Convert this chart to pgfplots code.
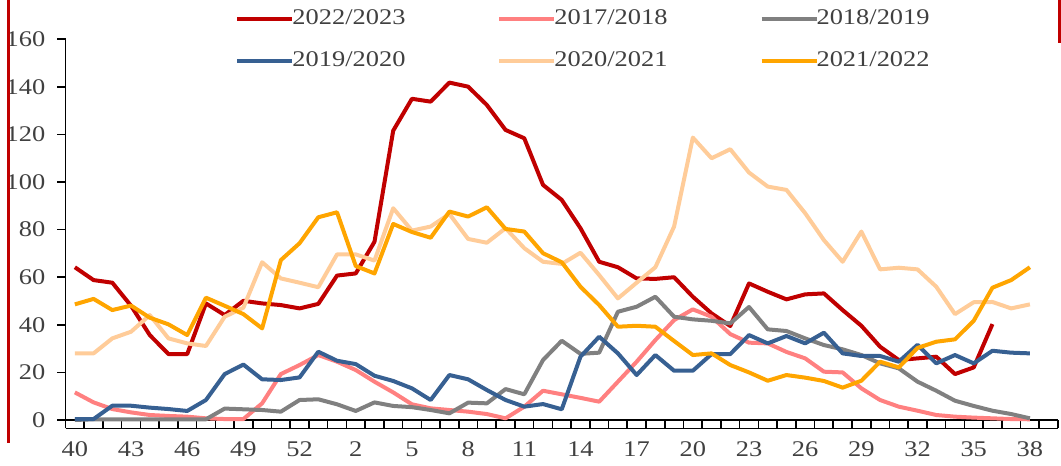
\documentclass[border=0pt]{standalone}
\usepackage{fontspec}
\setmainfont[FakeStretch=1.18]{Liberation Serif}
\usepackage{pgfplots}
\usepackage{pgfplotstable}
\pgfplotsset{compat=1.18}

\definecolor{sRed}{RGB}{192,0,0}
\definecolor{sPink}{RGB}{255,128,128}
\definecolor{sGray}{RGB}{128,128,128}
\definecolor{sBlue}{RGB}{55,96,146}
\definecolor{sPeach}{RGB}{255,204,153}
\definecolor{sOrange}{RGB}{255,165,0}
\definecolor{txt}{RGB}{64,64,64}

% week index: 0 = week 40, 13 = week 53, 14 = week 1 ... 51 = week 38
\pgfplotstableread{
i  r      p     g     b     c      o
0  64.2   11.6  0     0.4   28     48.6
1  58.8   7.4   0.3   0.4   28     50.9
2  57.7   4.6   0.3   6     34.3   46.2
3  48     3.2   0.3   6     37.1   48.1
4  35.7   2.1   0.3   5.2   44.1   43
5  27.7   1.7   0.3   4.6   34.3   40.2
6  27.7   1.4   0.3   3.8   32.2   35.7
7  49     0.7   0.3   8.4   31.1   51.4
8  44.1   0.4   4.8   19.3  43.4   48
9  50.1   0.4   4.5   23.3  47.2   44.5
10 49     7     4.2   17.1  66.3   38.5
11 48.3   19.3  3.5   16.8  59.5   67.2
12 46.9   23.1  8.4   17.9  57.7   74.3
13 48.8   27.3  8.7   28.7  55.8   85.2
14 60.7   24.5  6.6   24.9  69.6   87.3
15 61.6   21    3.8   23.5  69.6   64.7
16 74.9   16.1  7.4   18.6  67     61.6
17 121.6  11.6  5.9   16.4  89     82.4
18 135    6.6   5.4   13.3  79.6   79
19 133.8  4.9   4.2   8.4   81.3   76.6
20 141.8  4.2   2.8   18.9  86.6   87.6
21 140.1  3.5   7.3   17.1  76.1   85.5
22 132.4  2.5   7     12.6  74.5   89.4
23 121.9  0.7   13    8.4   80.6   80.3
24 118.4  5.6   10.8  5.6   72.2   79.2
25 98.8   12.3  25.2  6.7   66.5   70.1
26 92.5   10.8  33.3  4.5   65.6   66.3
27 80.6   9.3   27.8  26.6  70.3   56
28 66.5   7.7   28.3  35    60.9   48.3
29 64.2   16.1  45.5  28    51.1   39.2
30 59.5   24.5  47.6  18.9  57.7   39.6
31 59.3   33.6  51.8  27.3  64.2   39.2
32 60     42    43.4  20.7  81.3   33.2
33 51.8   46.5  42.3  20.7  118.7  27.3
34 44.8   43.4  41.7  27.7  110    28
35 39.5   36.1  40.6  27.7  113.8  23.1
36 57.4   32.5  47.5  35.7  104    20
37 53.9   32.2  38.1  32.2  98.1   16.5
38 50.7   28.6  37.4  35.3  96.7   18.9
39 52.8   25.9  34.3  32.2  86.9   17.8
40 53.2   20.3  31.5  36.7  75.6   16.4
41 46.2   20    29.7  28    66.5   13.6
42 39.6   13.3  27.3  26.9  79.2   16.5
43 30.8   8.4   23.8  26.9  63.3   24.5
44 25.2   5.6   21.7  24.5  64     22.1
45 25.9   3.9   16.1  31.6  63.3   30.3
46 26.6   2.1   12.3  23.8  56     32.9
47 19.3   1.4   8.1   27.3  44.5   33.9
48 22.1   1     5.9   23.8  49.5   41.7
49 40.3   0.7   3.9   29.1  49.6   55.6
50 nan    0.4   2.5   28.3  46.9   58.8
51 nan    0.3   0.7   28    48.6   64.2
}\flu

\begin{document}
\fontsize{11.2}{13}\selectfont
\begin{tikzpicture}
\useasboundingbox (-32.75pt,-23pt) rectangle (497.75pt,210pt);
\begin{axis}[
    at={(0pt,0pt)}, anchor=south west,
    scale only axis, width=496.25pt, height=190.35pt,
    xmin=-0.5, xmax=52.5, ymin=0, ymax=160,
    clip=false,
    axis lines*=left,
    axis line style={line width=0.8pt, black},
    tick style={line width=0.8pt, black},
    tick align=outside, major tick length=4.2pt,
    ytick={0,20,...,160},
    xtick={-0.5,0.5,...,52.5}, xticklabels={},
    extra x ticks={0,3,...,51},
    extra x tick labels={40,43,46,49,52,2,5,8,11,14,17,20,23,26,29,32,35,38},
    extra x tick style={major tick length=0pt},
    ticklabel style={text=txt, font=\fontsize{11.2}{13}\selectfont},
    yticklabel style={xshift=-2pt},
    xticklabel style={yshift=-7pt},
    /pgf/number format/assume math mode=true,
    legend columns=3,
    legend cell align=left,
    legend image code/.code={\draw[#1] (0pt,0pt) -- (27.5pt,0pt);},
    legend style={draw=none, fill=none, inner sep=0pt,
        at={(0.1708,0.9981)}, anchor=west,
        text=txt, font=\fontsize{11.2}{13}\selectfont,
        row sep=11.5pt, column sep=-1pt,
        nodes={inner sep=0pt, text height=7.5pt, text depth=2pt},
        /tikz/every even column/.append style={column sep=46pt}},
    every axis plot/.append style={line width=2pt, line join=round, no markers},
]
\addplot[sRed]    table[x=i, y=r] {\flu};
\addplot[sPink]   table[x=i, y=p] {\flu};
\addplot[sGray]   table[x=i, y=g] {\flu};
\addplot[sBlue]   table[x=i, y=b] {\flu};
\addplot[sPeach]  table[x=i, y=c] {\flu};
\addplot[sOrange] table[x=i, y=o] {\flu};
\legend{2022/2023,2017/2018,2018/2019,2019/2020,2020/2021,2021/2022}
\draw[line width=0.8pt] ([yshift=-4.2pt]axis cs:-0.5,0) -- ([yshift=-4.2pt]axis cs:52.5,0);
\draw[line width=0.8pt] (axis cs:-0.5,0) -- ([yshift=-4.2pt]axis cs:-0.5,0);
\end{axis}
% red frame edges visible at the sides of the reference
\draw[sRed, line width=1.5pt] (-28.5pt,210pt) -- (-28.5pt,-11.5pt);
\draw[sRed, line width=1.5pt] (496.75pt,210pt) -- (496.75pt,188.5pt);
\end{tikzpicture}
\end{document}
